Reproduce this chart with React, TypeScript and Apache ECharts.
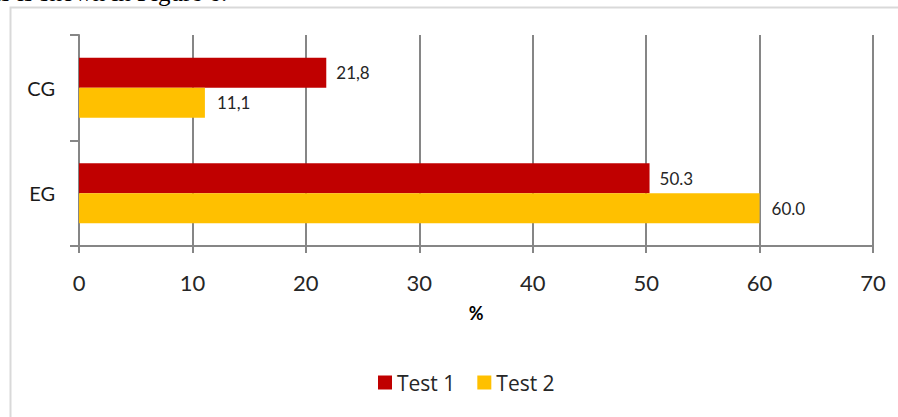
import React, { useEffect, useRef } from "react";
import * as echarts from "echarts";

const categories = ["CG", "EG"];
const seriesNames = ["Test 1", "Test 2"];
const test1 = [21.8, 50.3];
const test2 = [11.1, 60.0];
const test1Labels = ["21,8", "50.3"];
const test2Labels = ["11,1", "60.0"];
const xTicks = [0, 10, 20, 30, 40, 50, 60, 70];
const axisName = "%";
const captionText = "ts is shown in Figure 6.";

const FONT = "Lato";
const GRAY = "#868686";

export default function App() {
  const ref = useRef<HTMLDivElement>(null);
  useEffect(() => {
    if (!ref.current) return;
    const chart = echarts.init(ref.current, null, { renderer: "svg" });
    const option: any = {
      animation: false,
      backgroundColor: "#ffffff",
      textStyle: { fontFamily: FONT },
      graphic: [
        {
          type: "rect",
          shape: { x: 10.5, y: 7.5, width: 900, height: 430 },
          style: { fill: "none", stroke: "#d9d9d9", lineWidth: 2 },
          silent: true,
        },
        {
          type: "text",
          x: -6,
          y: 4.5,
          style: {
            text: captionText,
            font: "25px 'Liberation Serif'",
            fill: "#000",
            verticalAlign: "bottom",
            align: "left",
          },
          silent: true,
        },
      ],
      grid: { left: 79, right: 25, top: 35, bottom: 171, containLabel: false },
      legend: {
        data: seriesNames,
        bottom: 19,
        left: 373,
        icon: "rect",
        itemWidth: 14,
        itemHeight: 14,
        itemGap: 22,
        textStyle: { fontFamily: "Open Sans", fontSize: 21, color: "#262626" },
      },
      xAxis: {
        type: "value",
        min: xTicks[0],
        max: xTicks[xTicks.length - 1],
        interval: 10,
        name: axisName,
        nameLocation: "middle",
        nameGap: 58,
        nameTextStyle: { fontFamily: FONT, fontSize: 18, fontWeight: "bold", color: "#000" },
        axisLine: { show: true, lineStyle: { color: GRAY, width: 2 } },
        axisTick: { show: true, length: 7, lineStyle: { color: GRAY, width: 2 } },
        axisLabel: { margin: 25, fontFamily: FONT, fontSize: 22, color: "#262626" },
        splitLine: { show: true, lineStyle: { color: GRAY, width: 2 } },
      },
      yAxis: {
        type: "category",
        data: categories,
        inverse: true,
        axisLine: { show: true, lineStyle: { color: GRAY, width: 2 } },
        axisTick: { show: true, length: 9, lineStyle: { color: GRAY, width: 2 } },
        axisLabel: { margin: 24, fontFamily: FONT, fontSize: 20, color: "#1a1a1a" },
        splitLine: { show: false },
      },
      series: [
        {
          name: seriesNames[0],
          type: "bar",
          data: test1,
          barWidth: 30,
          barGap: "0%",
          itemStyle: { color: "#C00000" },
          label: {
            show: true,
            position: "right",
            distance: 10,
            fontFamily: FONT,
            fontSize: 17,
            color: "#262626",
            formatter: (p: any) => test1Labels[p.dataIndex],
          },
        },
        {
          name: seriesNames[1],
          type: "bar",
          data: test2,
          barWidth: 30,
          barGap: "0%",
          itemStyle: { color: "#FFC000" },
          label: {
            show: true,
            position: "right",
            distance: 12,
            fontFamily: FONT,
            fontSize: 17,
            color: "#262626",
            formatter: (p: any) => test2Labels[p.dataIndex],
          },
        },
      ],
    };
    chart.setOption(option);
    return () => chart.dispose();
  }, []);
  return (
    <div
      ref={ref}
      style={{ position: "fixed", left: 0, top: 0, width: 898, height: 417, background: "#fff" }}
    />
  );
}
